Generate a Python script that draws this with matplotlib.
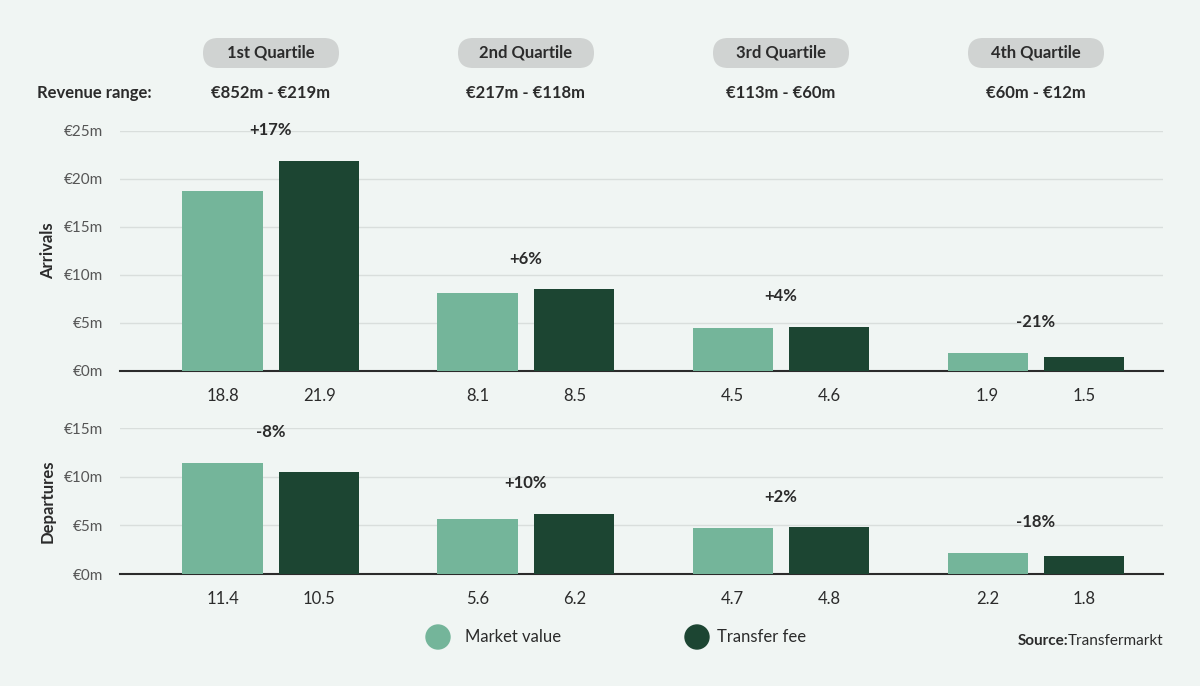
import matplotlib
matplotlib.use("Agg")
import matplotlib.pyplot as plt
from matplotlib.patches import FancyBboxPatch, Circle
from matplotlib.transforms import IdentityTransform

plt.rcParams['font.family'] = 'Lato'

quartiles = ["1st Quartile", "2nd Quartile", "3rd Quartile", "4th Quartile"]
ranges = ["€852m - €219m", "€217m - €118m", "€113m - €60m", "€60m - €12m"]
arr_mv = [18.8, 8.1, 4.5, 1.9]
arr_tf = [21.9, 8.5, 4.6, 1.5]
arr_pct = ["+17%", "+6%", "+4%", "-21%"]
dep_mv = [11.4, 5.6, 4.7, 2.2]
dep_tf = [10.5, 6.2, 4.8, 1.8]
dep_pct = ["-8%", "+10%", "+2%", "-18%"]
arr_ticks = [0, 5, 10, 15, 20, 25]
dep_ticks = [0, 5, 10, 15]

BG = "#f0f5f3"; LIGHT = "#74b59a"; DARK = "#1c4532"; TXT = "#2b2b2b"
W, H = 1200, 686
fig = plt.figure(figsize=(12, 6.86), dpi=100, facecolor=BG)

def ax_at(l, r, b, t):
    return fig.add_axes([l / W, (H - b) / H, (r - l) / W, (b - t) / H])

def draw(ax, mv, tf, pct, ticks, ylabel, lab_off):
    ax.set_facecolor(BG)
    x = list(range(4))
    ax.bar([i - 0.19 for i in x], mv, width=0.314, color=LIGHT, zorder=3)
    ax.bar([i + 0.19 for i in x], tf, width=0.314, color=DARK, zorder=3)
    ax.set_xlim(-0.592, 3.498)
    ax.set_ylim(0, ticks[-1])
    ax.set_yticks(ticks)
    ax.set_yticklabels([f"€{t}m" for t in ticks], color="#555", fontsize=11)
    ax.grid(axis='y', color="#d9dedc", lw=1, zorder=0)
    for s in ["top", "right", "left"]:
        ax.spines[s].set_visible(False)
    ax.spines["bottom"].set_color("#2b2b2b"); ax.spines["bottom"].set_linewidth(1.5)
    ax.tick_params(axis='both', length=0, pad=12)
    ax.set_xticks([])
    for i in x:
        for xx, v in ((i - 0.19, mv[i]), (i + 0.19, tf[i])):
            ax.annotate(f"{v}", (xx, 0), xytext=(0, -lab_off), textcoords="offset points",
                        ha="center", va="center", fontsize=12, color=TXT)
        ax.annotate(pct[i], (i, max(mv[i], tf[i])), xytext=(0, 22), textcoords="offset points",
                    ha="center", va="center", fontsize=12, fontweight="bold", color=TXT)
    ax.set_ylabel(ylabel, fontsize=12, fontweight="bold", color=TXT, labelpad=6)

ax1 = ax_at(120, 1163, 371, 131)
draw(ax1, arr_mv, arr_tf, arr_pct, arr_ticks, "Arrivals", 18)
ax2 = ax_at(120, 1163, 574, 428)
draw(ax2, dep_mv, dep_tf, dep_pct, dep_ticks, "Departures", 18)

ID = IdentityTransform()
for i, (q, r) in enumerate(zip(quartiles, ranges)):
    cxp = 120 + 151 + 255 * i
    pill = FancyBboxPatch((cxp - 68, H - 68), 136, 30,
                          boxstyle="round,pad=0,rounding_size=15", transform=ID,
                          facecolor="#d0d3d2", edgecolor="none")
    fig.patches.append(pill)
    fig.text(cxp / W, (H - 53) / H, q, ha="center", va="center", fontsize=12, fontweight="bold", color=TXT)
    fig.text(cxp / W, (H - 93) / H, r, ha="center", va="center", fontsize=12, fontweight="bold", color=TXT)
fig.text(37 / W, (H - 93) / H, "Revenue range:", ha="left", va="center", fontsize=12, fontweight="bold", color=TXT)

fig.patches.append(Circle((438, H - 637), 12, color=LIGHT, transform=ID))
fig.patches.append(Circle((697, H - 637), 12, color=DARK, transform=ID))
fig.text(465 / W, (H - 637) / H, "Market value", ha="left", va="center", fontsize=12, color=TXT)
fig.text(717 / W, (H - 637) / H, "Transfer fee", ha="left", va="center", fontsize=12, color=TXT)
fig.text(1163 / W, (H - 641) / H, "Transfermarkt", ha="right", va="center", fontsize=11, color=TXT)
fig.text(1068 / W, (H - 641) / H, "Source:", ha="right", va="center", fontsize=11, fontweight="bold", color=TXT)

fig.savefig("out.png", dpi=100, facecolor=BG)
